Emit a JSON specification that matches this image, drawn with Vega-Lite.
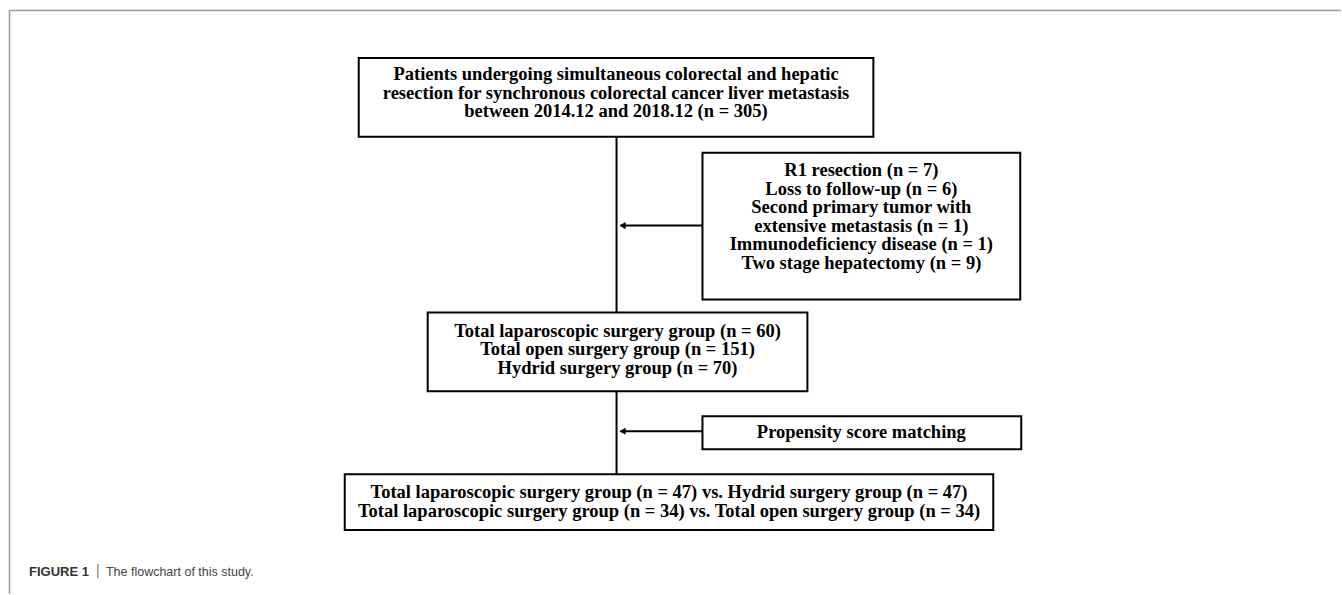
{
  "$schema": "https://vega.github.io/schema/vega-lite/v6.json",
  "width": 1342,
  "height": 595,
  "autosize": {"type": "fit", "contains": "padding"},
  "padding": 0,
  "background": "white",
  "config": {"view": {"stroke": null}},
  "datasets": {
    "frame": [
      {"x": 9.5, "y": 10.5, "x2": 1342, "y2": 10.5},
      {"x": 9.5, "y": 10.5, "x2": 9.5, "y2": 595}
    ],
    "boxes": [
      {"box": "start", "x": 359, "x2": 874, "y": 58, "y2": 137},
      {"box": "excluded", "x": 703, "x2": 1021, "y": 153, "y2": 300},
      {"box": "groups", "x": 428, "x2": 808, "y": 313, "y2": 392},
      {"box": "psm", "x": 703, "x2": 1022, "y": 417, "y2": 450},
      {"box": "matched", "x": 345, "x2": 994, "y": 475, "y2": 531}
    ],
    "links": [
      {"x": 617, "y": 137, "x2": 617, "y2": 313},
      {"x": 617, "y": 392, "x2": 617, "y2": 475},
      {"x": 703, "y": 226, "x2": 621, "y2": 226},
      {"x": 703, "y": 432, "x2": 621, "y2": 432}
    ],
    "heads": [
      {"x": 623, "y": 226},
      {"x": 623, "y": 432}
    ],
    "labels": [
      {"x": 616.5, "y": 74.5, "text": "Patients undergoing simultaneous colorectal and hepatic"},
      {"x": 616.5, "y": 93, "text": "resection for synchronous colorectal cancer liver metastasis"},
      {"x": 616.5, "y": 111.5, "text": "between 2014.12 and 2018.12 (n = 305)"},
      {"x": 862, "y": 170.5, "text": "R1 resection (n = 7)"},
      {"x": 862, "y": 189, "text": "Loss to follow-up (n = 6)"},
      {"x": 862, "y": 207.5, "text": "Second primary tumor with"},
      {"x": 862, "y": 226, "text": "extensive metastasis (n = 1)"},
      {"x": 862, "y": 244.5, "text": "Immunodeficiency disease (n = 1)"},
      {"x": 862, "y": 263, "text": "Two stage hepatectomy (n = 9)"},
      {"x": 618, "y": 331.5, "text": "Total laparoscopic surgery group (n = 60)"},
      {"x": 618, "y": 350, "text": "Total open surgery group (n = 151)"},
      {"x": 618, "y": 368.5, "text": "Hydrid surgery group (n = 70)"},
      {"x": 862, "y": 433, "text": "Propensity score matching"},
      {"x": 669.5, "y": 493, "text": "Total laparoscopic surgery group (n = 47) vs. Hydrid surgery group (n = 47)"},
      {"x": 669.5, "y": 512, "text": "Total laparoscopic surgery group (n = 34) vs. Total open surgery group (n = 34)"}
    ],
    "caption": [
      {"x": 29, "y": 573, "text": "FIGURE 1", "part": "title"},
      {"x": 96, "y": 572, "text": "|", "part": "sep"},
      {"x": 106, "y": 573, "text": "The flowchart of this study.", "part": "body"}
    ]
  },
  "layer": [
    {
      "data": {"name": "frame"},
      "mark": {"type": "rule", "stroke": "#999999", "strokeWidth": 1.5},
      "encoding": {
        "x": {"field": "x", "type": "quantitative", "scale": {"domain": [0, 1342], "nice": false, "zero": false}, "axis": null},
        "y": {"field": "y", "type": "quantitative", "scale": {"domain": [0, 595], "nice": false, "zero": false, "reverse": true}, "axis": null},
        "x2": {"field": "x2"},
        "y2": {"field": "y2"}
      }
    },
    {
      "data": {"name": "links"},
      "mark": {"type": "rule", "stroke": "black", "strokeWidth": 2},
      "encoding": {
        "x": {"field": "x", "type": "quantitative"},
        "y": {"field": "y", "type": "quantitative"},
        "x2": {"field": "x2"},
        "y2": {"field": "y2"}
      }
    },
    {
      "data": {"name": "heads"},
      "mark": {"type": "point", "shape": "triangle-left", "filled": true, "fill": "black", "stroke": null, "size": 50, "opacity": 1},
      "encoding": {
        "x": {"field": "x", "type": "quantitative"},
        "y": {"field": "y", "type": "quantitative"}
      }
    },
    {
      "data": {"name": "boxes"},
      "mark": {"type": "rect", "fill": "white", "stroke": "black", "strokeWidth": 2},
      "encoding": {
        "x": {"field": "x", "type": "quantitative"},
        "x2": {"field": "x2"},
        "y": {"field": "y", "type": "quantitative"},
        "y2": {"field": "y2"}
      }
    },
    {
      "data": {"name": "labels"},
      "mark": {"type": "text", "font": "Liberation Serif", "fontWeight": "bold", "fontSize": 18.5, "align": "center", "baseline": "middle", "color": "black"},
      "encoding": {
        "x": {"field": "x", "type": "quantitative"},
        "y": {"field": "y", "type": "quantitative"},
        "text": {"field": "text"}
      }
    },
    {
      "data": {"name": "caption"},
      "transform": [{"filter": "datum.part === 'title'"}],
      "mark": {"type": "text", "font": "Liberation Sans", "fontWeight": "bold", "fontSize": 13, "align": "left", "baseline": "middle", "color": "#333333"},
      "encoding": {
        "x": {"field": "x", "type": "quantitative"},
        "y": {"field": "y", "type": "quantitative"},
        "text": {"field": "text"}
      }
    },
    {
      "data": {"name": "caption"},
      "transform": [{"filter": "datum.part === 'sep'"}],
      "mark": {"type": "text", "font": "Liberation Sans", "fontWeight": "normal", "fontSize": 14, "align": "left", "baseline": "middle", "color": "#777777"},
      "encoding": {
        "x": {"field": "x", "type": "quantitative"},
        "y": {"field": "y", "type": "quantitative"},
        "text": {"field": "text"}
      }
    },
    {
      "data": {"name": "caption"},
      "transform": [{"filter": "datum.part === 'body'"}],
      "mark": {"type": "text", "font": "Liberation Sans", "fontWeight": "normal", "fontSize": 12.5, "align": "left", "baseline": "middle", "color": "#444444"},
      "encoding": {
        "x": {"field": "x", "type": "quantitative"},
        "y": {"field": "y", "type": "quantitative"},
        "text": {"field": "text"}
      }
    }
  ]
}
